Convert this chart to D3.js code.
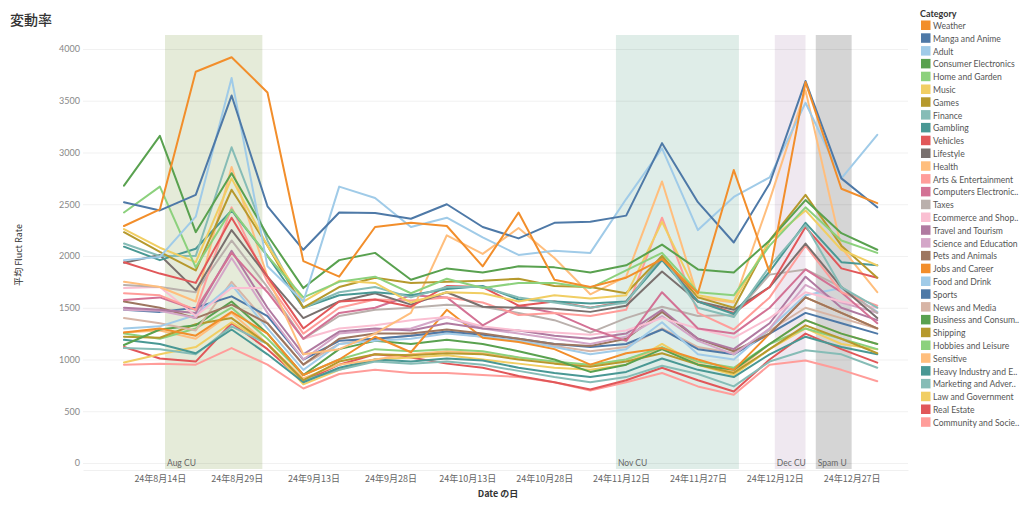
<!DOCTYPE html>
<html><head><meta charset="utf-8">
<script src="https://cdn.jsdelivr.net/npm/d3@7"></script>
<style>
body{margin:0;background:#fff;}
svg{display:block;font-family:Lato,"Noto Sans","Noto Sans CJK JP",sans-serif;}
</style></head>
<body><svg id="c" width="1024" height="512"></svg>
<script>
// ---- data ----
const dates = ["2024-08-07","2024-08-14","2024-08-21","2024-08-28","2024-09-04","2024-09-11","2024-09-18","2024-09-25","2024-10-02","2024-10-09","2024-10-16","2024-10-23","2024-10-30","2024-11-06","2024-11-13","2024-11-20","2024-11-27","2024-12-04","2024-12-11","2024-12-18","2024-12-25","2025-01-01"];
const categories = ["Weather","Manga and Anime","Adult","Consumer Electronics","Home and Garden","Music","Games","Finance","Gambling","Vehicles","Lifestyle","Health","Arts & Entertainment","Computers Electronic..","Taxes","Ecommerce and Shop..","Travel and Tourism","Science and Education","Pets and Animals","Jobs and Career","Food and Drink","Sports","News and Media","Business and Consum..","Shipping","Hobbies and Leisure","Sensitive","Heavy Industry and E..","Marketing and Adver..","Law and Government","Real Estate","Community and Socie.."];
const weather   = [2290,2450,3780,3920,3580,1950,1800,2280,2320,2290,1900,2420,1770,1700,1790,1970,1640,2830,1840,3680,2650,2510];
const manga     = [2520,2440,2590,3550,2480,2060,2420,2415,2360,2500,2280,2170,2320,2330,2390,3090,2520,2130,2700,3690,2750,2470];
const adult     = [1960,1990,2380,3720,1900,1560,2670,2560,2280,2370,2180,2010,2050,2030,2550,3040,2250,2570,2760,3480,2750,3170];
const consumerEl= [2680,3160,2230,2800,2200,1690,1960,2030,1770,1880,1840,1900,1890,1840,1910,2110,1870,1840,2150,2540,2220,2060];
const homeGarden= [2420,2670,1890,2450,2000,1600,1750,1800,1640,1780,1690,1740,1740,1690,1860,2030,1650,1620,2100,2470,2150,2030];
const music     = [2260,2080,1940,2750,2100,1560,1760,1740,1550,1650,1640,1560,1620,1590,1620,2330,1620,1560,2150,2440,2060,1910];
const games     = [2230,2040,1860,2640,2100,1500,1700,1790,1740,1750,1760,1780,1710,1700,1640,2000,1600,1500,2150,2590,2100,1790];
const finance   = [2120,2000,2000,3050,2150,1500,1650,1700,1600,1700,1700,1600,1550,1500,1550,2000,1500,1410,1900,2300,1700,1500];
const gambling  = [2090,1960,2070,2440,2000,1500,1620,1650,1620,1680,1710,1580,1560,1540,1560,1960,1560,1440,1850,2320,1940,1910];
const vehicles  = [1940,1830,1740,2370,1800,1300,1560,1580,1510,1710,1700,1520,1560,1500,1560,1990,1560,1450,1700,2280,1880,1790];
const lifestyle = [1935,2010,1670,2250,1800,1400,1560,1640,1530,1650,1510,1500,1490,1460,1520,1850,1560,1480,1700,2120,1700,1400];
const health    = [1750,1700,1560,2860,1800,1050,1100,1250,1450,2200,2020,2270,1980,1630,1800,2720,1600,1550,2540,3600,2080,1650];
const arts      = [1640,1620,1480,2470,1750,1250,1500,1580,1570,1600,1550,1430,1450,1420,1480,2370,1450,1290,1600,2100,1650,1520];
const computers = [1575,1600,1480,2030,1650,1200,1450,1500,1620,1600,1330,1520,1450,1300,1180,1650,1300,1250,1500,1870,1650,1350];
const taxes     = [1720,1700,1650,2150,1700,1200,1420,1480,1500,1530,1510,1450,1380,1260,1400,1510,1420,1430,1820,1870,1700,1450];
const ecommerce = [1690,1700,1420,1690,1690,1200,1300,1330,1380,1410,1320,1280,1260,1240,1280,1400,1300,1210,1400,1650,1560,1500];
const travel    = [1500,1480,1450,2050,1500,1050,1270,1300,1280,1350,1300,1280,1230,1200,1250,1480,1200,1100,1350,1800,1500,1380];
const science   = [1480,1470,1400,1980,1450,1000,1250,1280,1300,1410,1300,1250,1200,1150,1220,1420,1180,1050,1300,1720,1550,1450];
const pets      = [1560,1500,1400,1530,1350, 950,1200,1250,1250,1290,1250,1200,1150,1130,1200,1460,1200,1080,1250,1600,1450,1300];
const jobs      = [1260,1300,1230,1460,1250, 850,1000,1220,1070,1480,1210,1170,1100, 950,1060,1110,1000, 900,1250,1600,1450,1300];
const food      = [1300,1320,1430,1720,1300, 900,1150,1180,1200,1250,1220,1180,1120,1050,1100,1360,1050,1000,1300,1620,1690,1460];
const sports    = [1480,1460,1500,1610,1420,1000,1180,1200,1230,1270,1240,1200,1150,1120,1150,1290,1100,1050,1250,1450,1350,1250];
const news      = [1400,1350,1280,1750,1350, 950,1150,1200,1230,1260,1220,1180,1130,1080,1120,1300,1120,1060,1280,1500,1400,1300];
const business  = [1140,1290,1330,1560,1250, 850,1100,1180,1150,1190,1150,1080,1000, 880, 950,1100, 950, 900,1150,1380,1250,1150];
const shipping  = [1220,1210,1340,1400,1150, 800, 980,1050,1040,1060,1050,1000, 960, 930, 980,1060, 950, 870,1100,1330,1200,1060];
const hobbies   = [1250,1200,1300,1500,1200, 850,1000,1100,1080,1100,1080,1020, 980, 950,1000,1120, 980, 920,1150,1300,1200,1100];
const sensitive = [1260,1280,1200,1450,1150, 820, 950,1000,1050,1080,1060,1020, 970, 940,1000,1100, 960, 880,1150,1380,1250,1150];
const heavy     = [1190,1150,1060,1290,1050, 780, 920,1000, 980,1010, 990, 920, 870, 830, 880,1010, 900, 830,1050,1220,1120,1050];
const marketing = [1110,1100,1050,1320,1150, 800, 900, 980, 960, 980, 950, 890, 830, 780, 830, 940, 860, 740, 980,1090,1050, 920];
const law       = [ 970,1050,1120,1360,1150, 760, 900,1000,1020,1040,1000, 960, 920, 900, 950,1150, 950, 850,1100,1300,1150,1100];
const realEstate= [1120,1010, 980,1350,1100, 790, 950,1050,1020, 960, 920, 840, 780, 710, 800, 920, 800, 690,1000,1250,1100, 970];
const community = [ 950, 960, 950,1110, 950, 720, 860, 900, 870, 870, 850, 830, 780, 700, 780, 870, 740, 660, 950, 990, 900, 790];
const seriesValues = [weather,manga,adult,consumerEl,homeGarden,music,games,finance,gambling,vehicles,lifestyle,health,arts,computers,taxes,ecommerce,travel,science,pets,jobs,food,sports,news,business,shipping,hobbies,sensitive,heavy,marketing,law,realEstate,community];
const yTicks = [0,500,1000,1500,2000,2500,3000,3500,4000];
const xTickDates = ["2024-08-14","2024-08-29","2024-09-13","2024-09-28","2024-10-13","2024-10-28","2024-11-12","2024-11-27","2024-12-12","2024-12-27"];
const bandNames = ["Aug CU","Nov CU","Dec CU","Spam U"];
const bandStarts = ["2024-08-15","2024-11-11","2024-12-12","2024-12-20"];
const bandEnds = ["2024-09-03","2024-12-05","2024-12-18","2024-12-27"];

// ---- styles ----
const palette = ["#f28e2b","#4e79a7","#a0cbe8","#59a14f","#8cd17d","#f1ce63","#b6992d","#86bcb6","#499894","#e15759","#79706e","#ffbe7d","#ff9d9a","#d37295","#bab0ac","#fabfd2","#b07aa1","#d4a6c8","#9d7660","#f28e2b","#a0cbe8","#4e79a7","#d7b5a6","#59a14f","#b6992d","#8cd17d","#ffbe7d","#499894","#86bcb6","#f1ce63","#e15759","#ff9d9a"];
const bandColors = ["#e5ebd9","#dfede8","#efe8f0","#d5d5d5"];

const parse = d3.utcParse("%Y-%m-%d");
const svg = d3.select("#c");
const paneL = 83, paneR = 908, paneT = 35, paneB = 469;
const x = d3.scaleUtc().domain([parse("2024-07-30"), parse("2025-01-07")]).range([paneL, paneR]);
const y = d3.scaleLinear().domain([-58, 4135]).range([paneB, paneT]);

// title
svg.append("text").attr("x",10).attr("y",25).attr("font-size",14).attr("font-weight",500)
  .attr("font-family","'Noto Sans CJK JP',sans-serif").attr("fill","#333").text("変動率");

// bands
const bands = bandNames.map((n,i)=>({n, s:parse(bandStarts[i]), e:parse(bandEnds[i]), c:bandColors[i]}));
svg.append("g").selectAll("rect").data(bands).join("rect")
  .attr("x",d=>x(d.s)).attr("width",d=>x(d.e)-x(d.s))
  .attr("y",paneT).attr("height",paneB-paneT).attr("fill",d=>d.c);

// grid
svg.append("g").selectAll("line").data(yTicks).join("line")
  .attr("x1",paneL).attr("x2",paneR).attr("y1",d=>y(d)+0.5).attr("y2",d=>y(d)+0.5)
  .attr("stroke","#000").attr("stroke-opacity",0.06);

// band labels
svg.append("g").selectAll("text").data(bands).join("text")
  .attr("x",d=>x(d.s)+2).attr("y",466).attr("font-size",8.5).attr("fill","#666").text(d=>d.n);

// y axis
const yAxis = d3.axisLeft(y).tickValues(yTicks).tickSize(0).tickPadding(3).tickFormat(d3.format("d"));
const ya = svg.append("g").attr("transform",`translate(${paneL},0)`).call(yAxis);
ya.select(".domain").remove();
ya.selectAll("text").attr("font-size",9).attr("fill","#888").attr("font-family","Lato,sans-serif");

// x axis
const fmt = d => `${String(d.getUTCFullYear()).slice(2)}年${d.getUTCMonth()+1}月${d.getUTCDate()}日`;
const xAxis = d3.axisBottom(x).tickValues(xTickDates.map(parse)).tickSize(0).tickPadding(6).tickFormat(fmt);
const xa = svg.append("g").attr("transform",`translate(0,${paneB+1})`).call(xAxis);
xa.select(".domain").attr("stroke","#000").attr("stroke-opacity",0.06);
xa.selectAll("text").attr("font-size",9).attr("fill","#666").attr("font-family","'Noto Sans CJK JP',sans-serif");

// axis titles
svg.append("text").attr("transform","translate(22,255) rotate(-90)").attr("text-anchor","middle")
  .attr("font-size",9).attr("fill","#333").attr("font-family","'Noto Sans CJK JP',sans-serif").text("平均 Fluct Rate");
svg.append("text").attr("x",498).attr("y",497).attr("text-anchor","middle")
  .attr("font-size",9).attr("font-weight",600).attr("fill","#333").attr("font-family","'Noto Sans CJK JP',sans-serif").text("Date の日");

// lines
const dts = dates.map(parse);
const line = d3.line().x((d,i)=>x(dts[i])).y(d=>y(d));
const series = categories.map((c,i)=>({c, v:seriesValues[i], col:palette[i]}));
svg.append("g").selectAll("path").data(series.slice().reverse()).join("path")
  .attr("d",d=>line(d.v)).attr("fill","none").attr("stroke",d=>d.col)
  .attr("stroke-width",2).attr("stroke-linejoin","round").attr("stroke-linecap","round");

// legend
const lg = svg.append("g").attr("transform","translate(920,0)");
lg.append("text").attr("x",0).attr("y",17).attr("font-size",9).attr("font-weight",700).attr("fill","#333").text("Category");
const rows = lg.selectAll("g.r").data(series).join("g").attr("class","r")
  .attr("transform",(d,i)=>`translate(0,${25.5+i*12.8})`);
rows.append("rect").attr("x",1).attr("y",-5).attr("width",9.5).attr("height",9.5).attr("fill",d=>d.col);
rows.append("text").attr("x",13).attr("y",3.5).attr("font-size",8.6).attr("fill","#555").text(d=>d.c);
</script></body></html>
